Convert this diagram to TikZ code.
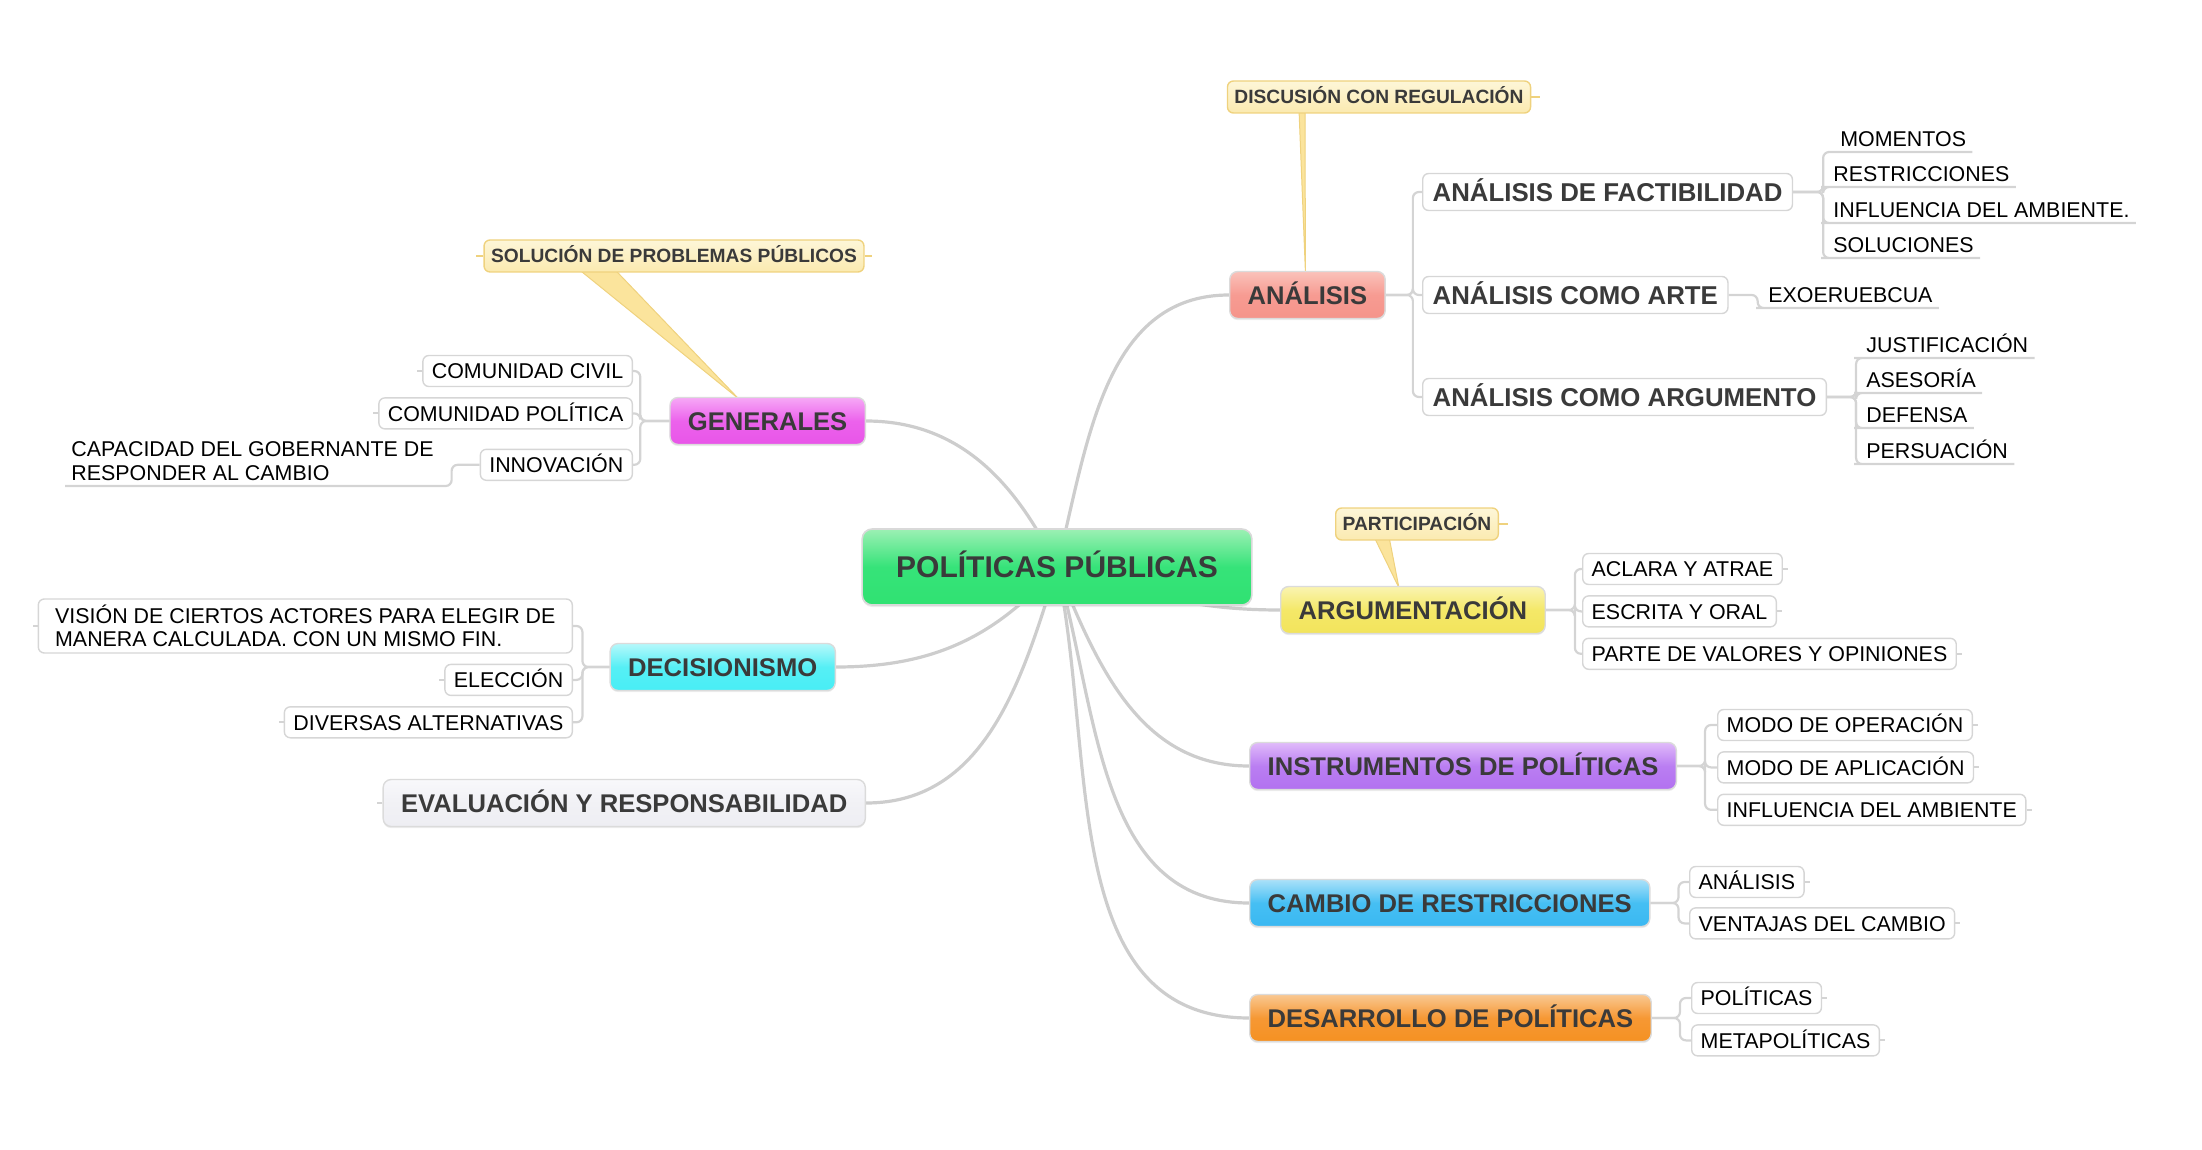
\documentclass[tikz,border=0pt]{standalone}
\usepackage{fontspec}
\setmainfont{Liberation Sans}
\usepackage{tikz}
\usetikzlibrary{positioning,backgrounds,shadows}

\definecolor{ink}{HTML}{3A3A3A}
\definecolor{leafline}{HTML}{D6D6D6}
\definecolor{branchgray}{HTML}{CDCDCD}
\definecolor{twiggray}{HTML}{D4D4D4}
\definecolor{notetop}{HTML}{FDF6D8}
\definecolor{notebot}{HTML}{FBEAB0}
\definecolor{noteline}{HTML}{EFD27E}
\definecolor{wedgefill}{HTML}{FBE49C}
\definecolor{coretop}{HTML}{9CF0B4}\definecolor{coremid}{HTML}{36E379}\definecolor{corebot}{HTML}{30E272}
\definecolor{gentop}{HTML}{F6A8F6}\definecolor{genmid}{HTML}{EC62EC}\definecolor{genbot}{HTML}{E855E8}
\definecolor{anatop}{HTML}{FAC2BA}\definecolor{anamid}{HTML}{F79B92}\definecolor{anabot}{HTML}{F5948A}
\definecolor{argtop}{HTML}{FAF4B2}\definecolor{argmid}{HTML}{F4E868}\definecolor{argbot}{HTML}{F2E45C}
\definecolor{dectop}{HTML}{B6F8FB}\definecolor{decmid}{HTML}{56EFF5}\definecolor{decbot}{HTML}{48EEF5}
\definecolor{evatop}{HTML}{F8F8FB}\definecolor{evamid}{HTML}{F1F1F5}\definecolor{evabot}{HTML}{EEEEF3}
\definecolor{instop}{HTML}{E0BAFA}\definecolor{insmid}{HTML}{BA7EF2}\definecolor{insbot}{HTML}{B271F0}
\definecolor{camtop}{HTML}{AAE1F9}\definecolor{cammid}{HTML}{46BFF3}\definecolor{cambot}{HTML}{3AB8F2}
\definecolor{destop}{HTML}{F9C892}\definecolor{desmid}{HTML}{F69834}\definecolor{desbot}{HTML}{F59122}

\begin{document}
\begin{tikzpicture}[x=0.5pt, y=0.5pt,
  core/.style={rectangle, rounded corners=5pt, draw=black!15, line width=0.8pt,
               top color=coretop, bottom color=corebot, middle color=coremid,
               minimum height=38pt, inner xsep=17pt, text=ink,
               text height=10.8pt, text depth=0pt,
               font=\fontsize{15}{18}\selectfont\bfseries,
               drop shadow={shadow xshift=0pt, shadow yshift=-1pt, opacity=0.15}},
  topic/.style={rectangle, rounded corners=4pt, draw=black!14, line width=0.7pt,
                top color=#1top, bottom color=#1bot, middle color=#1mid,
                minimum height=23.5pt, inner xsep=9pt, text=ink,
                text height=9.2pt, text depth=0pt,
                font=\fontsize{12.8}{15}\selectfont\bfseries,
                drop shadow={shadow xshift=0pt, shadow yshift=-0.8pt, opacity=0.15}},
  sub/.style={rectangle, rounded corners=3pt, draw=leafline, fill=white, line width=0.7pt,
              minimum height=18.5pt, inner xsep=5pt, text=ink,
              text height=9.2pt, text depth=0pt,
              font=\fontsize{12.9}{15}\selectfont\bfseries},
  leafbox/.style={rectangle, rounded corners=3pt, draw=leafline, fill=white, line width=0.7pt,
                  minimum height=15.5pt, inner xsep=4.5pt, inner ysep=2pt, text=black,
                  font=\fontsize{10.7}{11.5}\selectfont},
  leaf/.style={leafbox, text height=7.7pt, text depth=0pt},
  uleaf/.style={inner xsep=3pt, inner ysep=2.5pt, anchor=south west, text=black,
                text depth=0pt, font=\fontsize{10.7}{12}\selectfont},
  note/.style={rectangle, rounded corners=3pt, draw=noteline, line width=0.7pt,
               top color=notetop, bottom color=notebot,
               minimum height=16pt, inner xsep=3.5pt, text=ink,
               text height=6.9pt, text depth=0pt,
               font=\fontsize{9.6}{11}\selectfont\bfseries},
  wedge/.style={fill=wedgefill, draw=noteline, line width=0.5pt, line join=round},
  branch/.style={draw=branchgray, line width=1.6pt},
  twig/.style={draw=twiggray, line width=1.1pt, rounded corners=3pt},
  stub/.style={draw=twiggray, line width=1pt},
  nstub/.style={draw=noteline, line width=1pt}
]
\useasboundingbox (0,0) rectangle (2202,-1150);

%% ── Central topic and main topics ─────────────────────────────
\node[core] (pp) at (1057,-567) {POLÍTICAS PÚBLICAS};

\node[topic=ana, anchor=west] (ana) at (1229,-295) {ANÁLISIS};
\node[topic=gen, anchor=east] (gen) at (866,-421) {GENERALES};
\node[topic=arg, anchor=west] (arg) at (1280,-610) {ARGUMENTACIÓN};
\node[topic=dec, anchor=east] (dec) at (836,-667) {DECISIONISMO};
\node[topic=eva, anchor=east] (eva) at (866,-803) {EVALUACIÓN Y RESPONSABILIDAD};
\node[topic=ins, anchor=west] (ins) at (1249,-766) {INSTRUMENTOS DE POLÍTICAS};
\node[topic=cam, anchor=west] (cam) at (1249,-903) {CAMBIO DE RESTRICCIONES};
\node[topic=des, anchor=west] (des) at (1249,-1018) {DESARROLLO DE POLÍTICAS};

%% ── Callouts ───────────────────────────────────────────────────
\node[note] (nsol)  at (674,-256)  {SOLUCIÓN DE PROBLEMAS PÚBLICOS};
\node[note] (ndisc) at (1379,-97)  {DISCUSIÓN CON REGULACIÓN};
\node[note] (npart) at (1417,-524) {PARTICIPACIÓN};

%% ── ANÁLISIS ───────────────────────────────────────────────────
\node[sub, anchor=west] (fact) at (1422,-192) {ANÁLISIS DE FACTIBILIDAD};
\node[sub, anchor=west] (arte) at (1422,-295) {ANÁLISIS COMO ARTE};
\node[sub, anchor=west] (argu) at (1422,-397) {ANÁLISIS COMO ARGUMENTO};

\node[uleaf] (mom)   at (1834,-152) {MOMENTOS};
\node[uleaf] (restr) at (1827,-187) {RESTRICCIONES};
\node[uleaf] (infa)  at (1827,-223) {INFLUENCIA DEL AMBIENTE.};
\node[uleaf] (solu)  at (1827,-258) {SOLUCIONES};
\node[uleaf] (exo)   at (1762,-308) {EXOERUEBCUA};
\node[uleaf] (jus)   at (1860,-358) {JUSTIFICACIÓN};
\node[uleaf] (ase)   at (1860,-393) {ASESORÍA};
\node[uleaf] (def)   at (1860,-428) {DEFENSA};
\node[uleaf] (per)   at (1860,-464) {PERSUACIÓN};

%% ── ARGUMENTACIÓN ──────────────────────────────────────────────
\node[leaf, anchor=west] (acl) at (1582,-569) {ACLARA Y ATRAE};
\node[leaf, below=5pt of acl.south west, anchor=north west] (esc) {ESCRITA Y ORAL};
\node[leaf, below=5pt of esc.south west, anchor=north west] (par) {PARTE DE VALORES Y OPINIONES};

%% ── INSTRUMENTOS / CAMBIO / DESARROLLO ─────────────────────────
\node[leaf, anchor=west] (mop) at (1717,-725) {MODO DE OPERACIÓN};
\node[leaf, below=5pt of mop.south west, anchor=north west] (map) {MODO DE APLICACIÓN};
\node[leaf, below=5pt of map.south west, anchor=north west] (ina) {INFLUENCIA DEL AMBIENTE};

\node[leaf, anchor=west] (canal) at (1689,-882) {ANÁLISIS};
\node[leaf, below=4.5pt of canal.south west, anchor=north west] (ven) {VENTAJAS DEL CAMBIO};

\node[leaf, anchor=west] (pol) at (1691,-998) {POLÍTICAS};
\node[leaf, below=5pt of pol.south west, anchor=north west] (met) {METAPOLÍTICAS};

%% ── GENERALES ──────────────────────────────────────────────────
\node[leaf, anchor=east] (civ) at (633,-371) {COMUNIDAD CIVIL};
\node[leaf, below=5pt of civ.south east, anchor=north east] (cpo) {COMUNIDAD POLÍTICA};
\node[leaf, below=9.5pt of cpo.south east, anchor=north east] (inn) {INNOVACIÓN};
\node[uleaf, align=left] (cap) at (65,-486) {CAPACIDAD DEL GOBERNANTE DE\\RESPONDER AL CAMBIO};

%% ── DECISIONISMO ───────────────────────────────────────────────
\node[leafbox, align=left, anchor=east, minimum height=27pt, minimum width=267pt] (vis) at (573,-626)
  {VISIÓN DE CIERTOS ACTORES PARA ELEGIR DE\\MANERA CALCULADA. CON UN MISMO FIN.};
\node[leaf, below=5pt of vis.south east, anchor=north east] (ele) {ELECCIÓN};
\node[leaf, below=5pt of ele.south east, anchor=north east] (div) {DIVERSAS ALTERNATIVAS};

%% ── Connectors ─────────────────────────────────────────────────
\begin{scope}[on background layer]
  \draw[branch] (pp.center) to[out=76,in=180]   (ana.west);
  \draw[branch] (pp.center) to[out=116,in=0]    (gen.east);
  \draw[branch] (pp.center) to[out=-17,in=180]  (arg.west);
  \draw[branch] (pp.center) to[out=-131,in=0]   (dec.east);
  \draw[branch] (pp.center) to[out=-107,in=0]   (eva.east);
  \draw[branch] (pp.center) to[out=-68,in=180]  (ins.west);
  \draw[branch] (pp.center) to[out=-74,in=180]  (cam.west);
  \draw[branch] (pp.center) to[out=-78,in=180]  (des.west);

  \filldraw[wedge] ([xshift=-48pt,yshift=2pt]nsol.south) -- ([xshift=-30pt,yshift=2pt]nsol.south)
    -- ([xshift=-14.5pt,yshift=-1pt]gen.north) -- cycle;
  \filldraw[wedge] ([xshift=-40pt,yshift=2pt]ndisc.south) -- ([xshift=-37pt,yshift=2pt]ndisc.south)
    -- ([xshift=-1pt,yshift=-1pt]ana.north) -- cycle;
  \filldraw[wedge] ([xshift=-21.5pt,yshift=2pt]npart.south) -- ([xshift=-14pt,yshift=2pt]npart.south)
    -- ([xshift=-7pt,yshift=-1pt]arg.north) -- cycle;
\end{scope}

\foreach \n in {fact,arte,argu}
  \draw[twig] (ana.east) -- ++(27,0) |- (\n.west);
\foreach \n in {mom,restr,infa,solu}
  \draw[twig] (fact.east) -- ++(30,0) |- (\n.south west) -- (\n.south east);
\draw[twig] (arte.east) -- ++(29,0) |- (exo.south west) -- (exo.south east);
\foreach \n in {jus,ase,def,per}
  \draw[twig] (argu.east) -- ++(29,0) |- (\n.south west) -- (\n.south east);

\foreach \n in {acl,esc,par}
  \draw[twig] (arg.east) -- ++(29,0) |- (\n.west);
\foreach \n in {mop,map,ina}
  \draw[twig] (ins.east) -- ++(28,0) |- (\n.west);
\foreach \n in {canal,ven}
  \draw[twig] (cam.east) -- ++(28,0) |- (\n.west);
\foreach \n in {pol,met}
  \draw[twig] (des.east) -- ++(28,0) |- (\n.west);

\foreach \n in {civ,cpo,inn}
  \draw[twig] (gen.west) -- ++(-29,0) |- (\n.east);
\draw[twig] (inn.west) -- ++(-28,0) |- (cap.south east) -- (cap.south west);
\foreach \n in {vis,ele,div}
  \draw[twig] (dec.west) -- ++(-27,0) |- (\n.east);

%% little end marks
\foreach \n in {acl,esc,par,mop,map,ina,canal,ven,pol,met}
  \draw[stub] (\n.east) -- ++(5,0);
\foreach \n in {civ,cpo,vis,ele,div,eva}
  \draw[stub] (\n.west) -- ++(-5,0);
\draw[nstub] (nsol.east) -- ++(7,0);
\draw[nstub] (nsol.west) -- ++(-7,0);
\draw[nstub] (ndisc.east) -- ++(9,0);
\draw[nstub] (npart.east) -- ++(9,0);

\end{tikzpicture}
\end{document}
